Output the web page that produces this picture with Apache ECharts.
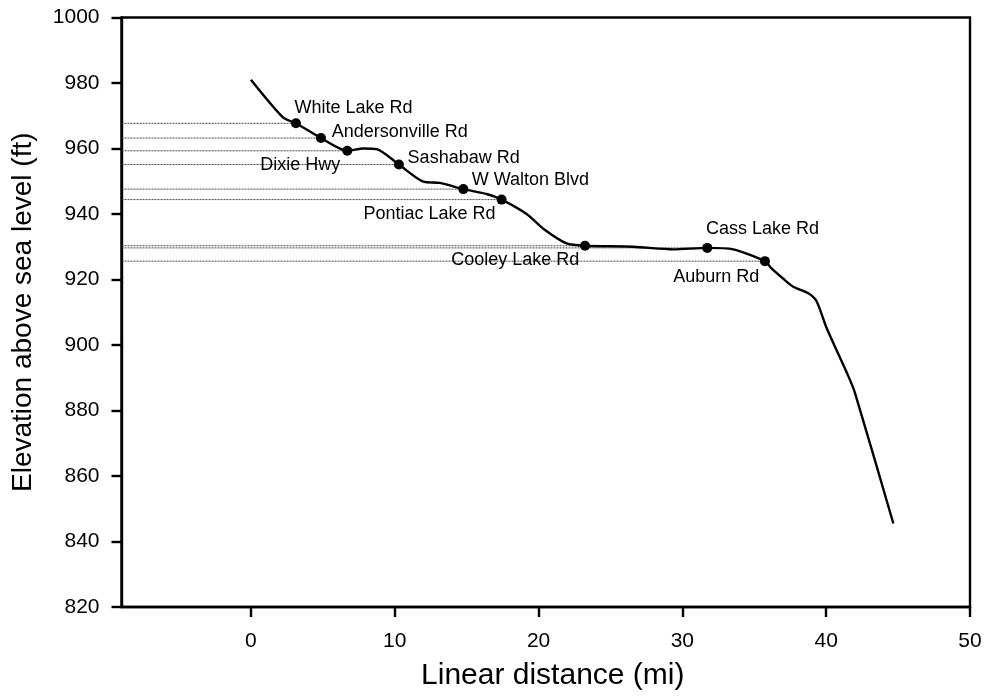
<!DOCTYPE html>
<html>
<head>
<meta charset="utf-8">
<script src="https://cdn.jsdelivr.net/npm/echarts@6/dist/echarts.min.js"></script>
<style>
html,body{margin:0;padding:0;background:#fff;}
#chart{width:985px;height:696px;}
</style>
</head>
<body>
<div id="chart"></div>
<script>
// ---- Data ----
const profileDistance = [0, 2.25, 3.13, 4.87, 6.70, 7.81, 8.74, 10.29, 11.98, 13.14, 14.77, 16.39, 17.43, 19.17, 20.33, 21.95, 23.23, 26.59, 29.37, 31.73, 33.54, 35.74, 36.2, 37.0, 37.71, 38.76, 39.34, 40.03, 41.54, 42.0, 44.67];
const profileElevation = [981.0, 969.4, 967.7, 963.2, 959.3, 960.0, 959.8, 955.1, 949.9, 949.5, 947.6, 946.1, 944.4, 940.0, 935.5, 931.0, 930.3, 930.0, 929.2, 929.65, 929.2, 925.6, 923.4, 920.3, 917.8, 915.8, 913.3, 905.2, 890.5, 885.4, 845.5];

const roadNames = ["White Lake Rd", "Andersonville Rd", "Dixie Hwy", "Sashabaw Rd", "W Walton Blvd", "Pontiac Lake Rd", "Cooley Lake Rd", "Cass Lake Rd", "Auburn Rd"];
const roadDistance = [3.13, 4.87, 6.70, 10.29, 14.77, 17.43, 23.23, 31.73, 35.74];
const roadElevation = [967.7, 963.2, 959.3, 955.1, 947.6, 944.4, 930.3, 929.65, 925.6];

const xTickValues = [0, 10, 20, 30, 40, 50];
const xMin = -9, xMax = 50;
const yMin = 820, yMax = 1000, yStep = 20;

const xTitle = "Linear distance (mi)";
const yTitle = "Elevation above sea level (ft)";

// ---- Label placement (layout only) ----
const labelPlacement = {
  "White Lake Rd":    {align: "left",  dx: -1.4, dy: -15.2},
  "Andersonville Rd": {align: "left",  dx: 10.7, dy: -5.9},
  "Dixie Hwy":        {align: "right", dx: -7.0, dy: 14.3},
  "Sashabaw Rd":      {align: "left",  dx: 8.7,  dy: -6.5},
  "W Walton Blvd":    {align: "left",  dx: 8.4,  dy: -9.0},
  "Pontiac Lake Rd":  {align: "right", dx: -6.0, dy: 14.6},
  "Cooley Lake Rd":   {align: "right", dx: -5.7, dy: 14.7},
  "Cass Lake Rd":     {align: "left",  dx: -1.3, dy: -18.5},
  "Auburn Rd":        {align: "right", dx: -5.7, dy: 16.1}
};

const FONT = "Liberation Sans, Arial, Helvetica, sans-serif";
const SYM = 10;

const series = [];

// dotted reference lines from the y-axis to each road marker
roadNames.forEach(function (name, i) {
  series.push({
    type: "line",
    silent: true,
    symbol: "none",
    animation: false,
    z: 1,
    lineStyle: {color: "#333", width: 0.9, type: [2, 1]},
    data: [[xMin, roadElevation[i]], [roadDistance[i], roadElevation[i]]]
  });
});

// elevation profile
series.push({
  type: "line",
  symbol: "none",
  smooth: 0.25,
  animation: false,
  z: 3,
  lineStyle: {color: "#000", width: 2.4},
  data: profileDistance.map(function (d, i) { return [d, profileElevation[i]]; })
});

// road markers with labels
series.push({
  type: "scatter",
  symbol: "circle",
  symbolSize: SYM,
  animation: false,
  z: 4,
  itemStyle: {color: "#000", opacity: 1},
  emphasis: {disabled: true},
  data: roadNames.map(function (name, i) {
    const p = labelPlacement[name];
    return {
      value: [roadDistance[i], roadElevation[i]],
      name: name,
      label: {
        show: true,
        formatter: name,
        position: [SYM / 2 + p.dx, SYM / 2 + p.dy],
        align: p.align,
        verticalAlign: "middle",
        color: "#000",
        opacity: 1,
        fontSize: 18,
        fontFamily: FONT
      }
    };
  })
});

const chart = echarts.init(document.getElementById("chart"), null, {renderer: "canvas"});
chart.setOption({
  backgroundColor: "#fff",
  animation: false,
  grid: {
    left: 121.5, right: 15, top: 17.5, bottom: 85,
    show: true, borderColor: "#000", borderWidth: 2.4, backgroundColor: "transparent"
  },
  xAxis: {
    type: "value",
    min: xMin, max: xMax,
    name: xTitle,
    nameLocation: "middle",
    nameGap: 54,
    nameTextStyle: {fontSize: 30, fontFamily: FONT, color: "#000", padding: [0, 0, 0, 14]},
    axisLine: {show: true, onZero: false, lineStyle: {color: "#000", width: 2.4}},
    axisTick: {show: true, inside: false, length: 10, customValues: xTickValues, lineStyle: {color: "#000", width: 2.4}},
    axisLabel: {show: true, margin: 24, customValues: xTickValues, fontSize: 21, fontFamily: FONT, color: "#000",
      formatter: function (v) { return String(v); }},
    splitLine: {show: false}
  },
  yAxis: {
    type: "value",
    min: yMin, max: yMax, interval: yStep,
    name: yTitle,
    nameLocation: "middle",
    nameRotate: 90,
    nameGap: 84,
    nameTextStyle: {fontSize: 28, fontFamily: FONT, color: "#000"},
    axisLine: {show: true, onZero: false, lineStyle: {color: "#000", width: 2.4}},
    axisTick: {show: true, inside: false, length: 10, lineStyle: {color: "#000", width: 2.4}},
    axisLabel: {show: true, margin: 22, fontSize: 21, fontFamily: FONT, color: "#000",
      formatter: function (v) { return String(v); }},
    splitLine: {show: false}
  },
  series: series
});
</script>
</body>
</html>
